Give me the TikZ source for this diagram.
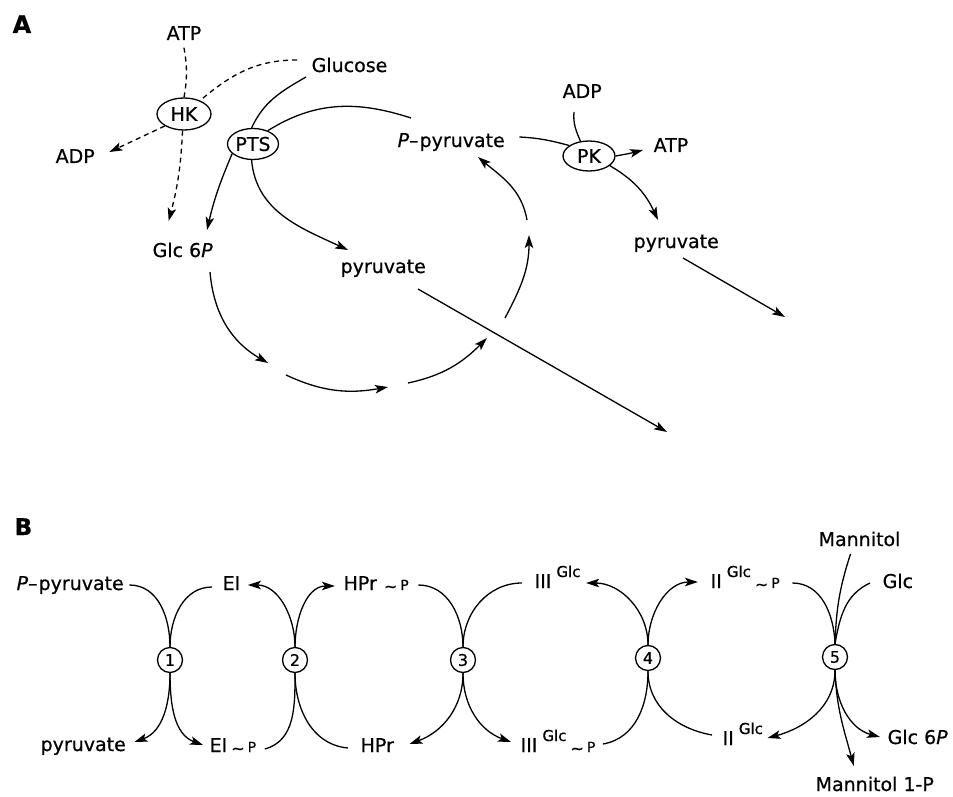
\documentclass[tikz,border=0pt]{standalone}
\usepackage{fontspec}
\setmainfont{DejaVu Sans}[FakeBold=0.6]
\usetikzlibrary{arrows.meta,shapes.geometric}
\newcommand{\fsz}[1]{\fontsize{#1}{#1}\selectfont}
\newcommand{\glcsup}{\hspace{5pt}\raisebox{11pt}{\fsz{15}Glc}}
\newcommand{\phosp}{{\fsz{16}\hspace{4pt}\raisebox{-2pt}{\textasciitilde}\hspace{3pt}{\fsz{14}P}}}
\begin{document}
\begin{tikzpicture}[x=1pt,y=-1pt,line width=1.3pt,font=\fsz{19},
  lab/.style={inner sep=0pt,anchor=base west},
  enz/.style={draw,ellipse,inner sep=0pt},
  num/.style={draw,circle,minimum size=25pt,inner sep=0pt,font=\fsz{16}},
  arr/.style={-{Stealth[length=13pt,width=8.5pt,inset=3pt]}},
  dsh/.style={dash pattern=on 5pt off 4pt}]
\useasboundingbox (0,0) rectangle (953,797);
% ---------------- Part A ----------------
\node[lab,font=\bfseries\fsz{24}] (lA) at (12,33) {A};
\node[lab] (atp1) at (166,40) {ATP};
\node[lab] (glu) at (311,72) {Glucose};
\node[enz,minimum width=54pt,minimum height=32pt] (hk) at (184,114) {HK};
\node[lab] (adp1) at (55,163) {ADP};
\node[enz,minimum width=51pt,minimum height=31pt] (pts) at (253,144) {PTS};
\node[lab] (g6p) at (152,257) {Glc 6\textit{P}};
\node[lab] (pyr1) at (340,273) {pyruvate};
\node[lab] (ppyr) at (397,147) {\textit{P}–\hspace{1pt}pyruvate};
\node[lab] (adp2) at (562,98) {ADP};
\node[enz,minimum width=52pt,minimum height=30pt] (pk) at (589,156) {PK};
\node[lab] (atp2) at (653,152) {ATP};
\node[lab] (pyr2) at (633,248) {pyruvate};
\coordinate (out1) at (667,432);
\coordinate (out2) at (785,317);
\coordinate (cb) at (268,363);
\coordinate (cc) at (286,375);
\coordinate (cd) at (388,387);
\coordinate (ce) at (408,383);
\coordinate (cf) at (487,338);
\coordinate (cg) at (505,318);
\coordinate (ch) at (529,235);
\coordinate (ci) at (527,220);
% hexokinase (dashed)
\draw[dsh] ([yshift=-7pt]atp1.south) to[bend left=10] (hk.north);
\draw[dsh] ([xshift=-14pt,yshift=12pt]glu.base west) to[out=180,in=40] (hk.40);
\draw[dsh,arr] (hk.212) -- ([xshift=14pt,yshift=11pt]adp1.base east);
\draw[dsh,arr] (hk.265) to[bend left=6] ([xshift=-14pt,yshift=21pt]g6p.north);
% PTS
\draw ([xshift=-5pt,yshift=-5pt]glu.base west) to[out=210,in=65] (pts.95);
\draw (pts.42) to[out=32,in=162] ([xshift=14pt,yshift=29pt]ppyr.base west);
\draw[arr] (pts.205) to[out=-113,in=77] ([xshift=55pt,yshift=27pt]g6p.base west);
\draw[arr] (pts.265) to[out=-85,in=155] ([xshift=8pt,yshift=23pt]pyr1.base west);
% PK
\draw ([xshift=14pt,yshift=10pt]ppyr.base east) to[out=-3,in=165] (pk.152);
\draw ([xshift=12pt,yshift=-14pt]adp2.base west) to[out=-95,in=113] (pk.120);
\draw[arr] (pk.east) to[out=10,in=195] ([xshift=-10pt,yshift=2pt]atp2.base west);
\draw[arr] (pk.-25) to[out=-30,in=115] ([xshift=25pt,yshift=28pt]pyr2.base west);
\draw[arr] ([xshift=50pt,yshift=-10pt]pyr2.base west) -- (out2);
\draw[arr] ([xshift=78pt,yshift=-16pt]pyr1.base west) -- (out1);
% cycle
\draw[arr] ([xshift=58pt,yshift=-15pt]g6p.base west) to[out=-85,in=150] (cb);
\draw[arr] (cc) to[out=-25,in=190] (cd);
\draw[arr] (ce) to[out=12,in=225] (cf);
\draw[arr] (cg) to[out=62,in=-90] (ch);
\draw[arr] (ci) to[out=100,in=-40] ([xshift=81pt,yshift=-10pt]ppyr.base west);
% ---------------- Part B ----------------
\node[lab,font=\bfseries\fsz{23}] (lB) at (14,535) {B};
\node[num] (c1) at (170,660) {1};
\node[num] (c2) at (295,660) {2};
\node[num] (c3) at (463,660) {3};
\node[num] (c4) at (648,658) {4};
\node[num] (c5) at (835,657) {5};
\node[lab] (tP) at (16,590) {\textit{P}–\hspace{1pt}pyruvate};
\node[lab] (tEI) at (222,590) {EI};
\node[lab] (tHPr) at (343,590) {HPr\hspace{3pt}\phosp};
\node[lab] (tIII) at (534,588) {III\glcsup};
\node[lab] (tII) at (710,588) {II\glcsup\phosp};
\node[lab] (tMan) at (818,546) {Mannitol};
\node[lab] (tGlc) at (882,588) {Glc};
\node[lab] (bpyr) at (40,751) {pyruvate};
\node[lab] (bEI) at (209,752) {EI\phosp};
\node[lab] (bHPr) at (360,752) {HPr};
\node[lab] (bIII) at (520,752) {III\glcsup\phosp};
\node[lab] (bII) at (722,745) {II\glcsup};
\node[lab] (bG6P) at (887,744) {Glc 6\textit{P}};
\node[lab] (bMan) at (815,791) {Mannitol 1-P};
% top connectors
\draw ([xshift=5pt,yshift=5pt]tP.base east) to[out=0,in=90] (c1.north);
\draw ([xshift=-10pt,yshift=3pt]tEI.base west) to[out=180,in=90] (c1.north);
\draw[arr] (c2.north) to[out=90,in=0] ([xshift=7pt,yshift=5pt]tEI.base east);
\draw[arr] (c2.north) to[out=90,in=180] ([xshift=-8pt,yshift=4pt]tHPr.base west);
\draw ([xshift=9pt,yshift=5pt]tHPr.base east) to[out=0,in=90] (c3.north);
\draw ([xshift=-12pt,yshift=5pt]tIII.base west) to[out=180,in=90] (c3.north);
\draw[arr] (c4.north) to[out=90,in=0] ([xshift=5pt,yshift=5pt]tIII.base east);
\draw[arr] (c4.north) to[out=90,in=180] ([xshift=-12pt,yshift=6pt]tII.base west);
\draw ([xshift=12pt,yshift=5pt]tII.base east) to[out=0,in=92] (c5.north);
\draw ([xshift=-9pt,yshift=-7pt]tMan.south) to[out=-108,in=88] (c5.north);
\draw ([xshift=-12pt,yshift=5pt]tGlc.base west) to[out=205,in=80] (c5.north);
% bottom connectors
\draw[arr] (c1.south) to[out=-90,in=20] ([xshift=8pt,yshift=9pt]bpyr.base east);
\draw[arr] (c1.south) to[out=-90,in=160] ([xshift=-6pt,yshift=7pt]bEI.base west);
\draw ([xshift=8pt,yshift=3pt]bEI.base east) to[out=15,in=-90] (c2.south);
\draw (c2.south) to[out=-90,in=175] ([xshift=-12pt,yshift=4pt]bHPr.base west);
\draw[arr] (c3.south) to[out=-90,in=20] ([xshift=15pt,yshift=8pt]bHPr.base east);
\draw[arr] (c3.south) to[out=-90,in=160] ([xshift=-9pt,yshift=10pt]bIII.base west);
\draw ([xshift=7pt,yshift=8pt]bIII.base east) to[out=10,in=-90] (c4.south);
\draw (c4.south) to[out=-90,in=170] ([xshift=-10pt,yshift=10pt]bII.base west);
\draw[arr] (c5.south) to[out=-90,in=15] ([xshift=4pt,yshift=7pt]bII.base east);
\draw[arr] (c5.south) to[out=-90,in=165] ([xshift=-7pt,yshift=7pt]bG6P.base west);
\draw[arr] (c5.south) to[out=-88,in=105] ([xshift=-21pt,yshift=10pt]bMan.north);
\end{tikzpicture}
\end{document}
